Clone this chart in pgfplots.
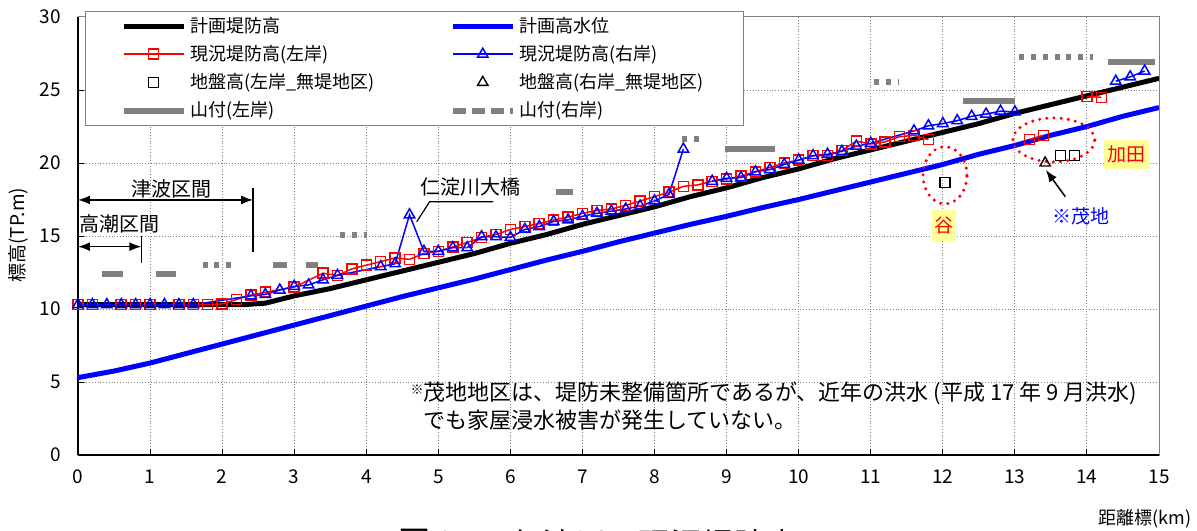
\documentclass[border=0pt]{standalone}
\usepackage{fontspec}
\setmainfont{Noto Sans CJK JP}
\usepackage{pgfplots}
\pgfplotsset{compat=1.18}
\usetikzlibrary{arrows.meta}
\definecolor{mygray}{RGB}{128,128,128}
\definecolor{yel}{RGB}{255,255,153}
\newcommand{\fs}[1]{\fontsize{#1}{#1}\selectfont}
\pgfplotsset{
  linelegend/.style={legend image code/.code={\draw[mark repeat=2,mark phase=2,##1] plot coordinates {(0pt,0pt) (15pt,0pt) (30pt,0pt)};}},
  dashlegend/.style={legend image code/.code={\draw[##1, dash pattern=on 6.5pt off 3pt] (0pt,0pt) -- (30pt,0pt);}},
}
\begin{document}
\begin{tikzpicture}
\begin{axis}[
  scale only axis, width=540.5pt, height=219pt,
  xmin=0, xmax=15, ymin=0, ymax=30,
  xtick={0,1,...,15}, ytick={0,5,...,30},
  grid=major, grid style={densely dotted, gray, line width=0.5pt},
  axis x line*=bottom, axis y line*=left,
  axis line style={black, line width=1pt, -},
  tick style={black, line width=0.5pt},
  major tick length=3pt, tick align=inside,
  ticklabel style={font=\fs{9.5}},
  xticklabel style={yshift=-4pt},
  yticklabel style={xshift=-5pt},
  /pgf/number format/assume math mode=true,
  clip=false,
  unbounded coords=jump,
  legend columns=2,
  legend cell align=left,
  legend style={at={(axis description cs:0.0065,1.0137)}, anchor=north west,
    draw=gray, line width=0.5pt, fill=white, font=\fs{9},
    inner xsep=17.5pt, inner ysep=1.75pt, row sep=3pt,
    nodes={inner ysep=1pt},
    /tikz/every even column/.append style={column sep=35.5pt}},
  linelegend,
]
% 計画堤防高
\addplot[black, line width=2.5pt] coordinates {
(0,10.3)(2.3,10.3)(2.6,10.4)(3.0,10.9)(3.5,11.4)(4,12.0)(4.5,12.6)(5,13.2)(5.5,13.8)(6,14.5)(6.5,15.1)(7,15.8)(7.5,16.4)(8,17.0)(8.5,17.7)(9,18.3)(9.5,19.0)(10,19.6)(10.5,20.3)(11,20.9)(11.5,21.5)(12,22.1)(12.5,22.7)(13,23.4)(13.5,24.0)(14,24.6)(14.5,25.2)(15,25.8)};
\addlegendentry{計画堤防高}
% 計画高水位
\addplot[blue, line width=2.5pt] coordinates {
(0,5.3)(0.5,5.75)(1,6.3)(1.5,6.95)(2,7.6)(2.5,8.25)(3,8.9)(3.5,9.55)(4,10.2)(4.5,10.85)(5,11.45)(5.5,12.05)(6,12.7)(6.5,13.35)(7,13.95)(7.5,14.6)(8,15.2)(8.5,15.8)(9,16.35)(9.5,16.95)(10,17.5)(10.5,18.1)(11,18.7)(11.5,19.3)(12,19.9)(12.5,20.6)(13,21.2)(13.5,21.9)(14,22.5)(14.5,23.2)(15,23.8)};
\addlegendentry{計画高水位}
% 現況堤防高(左岸)
\addplot[red, line width=0.75pt, mark=square, mark size=2.5pt, mark options={solid}] coordinates {
(0,10.3)(0.2,10.3)(0.6,10.3)(0.8,10.3)(1.0,10.3)(1.4,10.3)(1.6,10.3)(1.8,10.3)(2.0,10.35)(2.2,10.65)(2.4,10.95)(2.6,11.15)(3.0,11.5)(3.4,12.45)(3.6,12.3)(3.8,12.75)(4.0,13.0)(4.2,13.25)(4.4,13.5)(4.6,13.4)(4.8,13.8)(5.0,13.95)(5.2,14.25)(5.4,14.55)(5.6,14.9)(5.8,15.1)(6.0,15.45)(6.2,15.65)(6.4,15.85)(6.6,16.1)(6.8,16.3)(7.0,16.55)(7.2,16.75)(7.4,16.85)(7.6,17.1)(7.8,17.4)(8.0,17.7)(8.2,18.0)(8.4,18.4)(8.6,18.5)(8.8,18.75)(9.0,18.9)(9.2,19.1)(9.4,19.4)(9.6,19.7)(9.8,20.0)(10.0,20.2)(10.2,20.5)(10.4,20.5)(10.6,20.85)(10.8,21.5)(11.0,21.3)(11.2,21.45)(11.4,21.8)(11.6,21.9)(11.8,21.6)(12.5,nan)(13.2,21.6)(13.4,21.9)(13.7,nan)(14.0,24.55)(14.2,24.5)};
\addlegendentry{現況堤防高(左岸)}
% 現況堤防高(右岸)
\addplot[blue, line width=0.75pt, mark=triangle, mark size=3pt, mark options={solid}] coordinates {
(0,10.3)(0.2,10.3)(0.4,10.3)(0.6,10.3)(0.8,10.3)(1.0,10.3)(1.2,10.3)(1.4,10.3)(1.6,10.3)(2.4,10.9)(2.6,11.0)(2.8,11.3)(3.0,11.55)(3.2,11.65)(3.4,12.0)(3.6,12.3)(4.2,12.9)(4.4,13.1)(4.6,16.45)(4.8,13.95)(5.0,13.95)(5.2,14.2)(5.4,14.2)(5.6,14.95)(5.8,14.95)(6.0,14.9)(6.2,15.45)(6.4,15.65)(6.6,16.0)(6.8,16.1)(7.0,16.35)(7.2,16.55)(7.4,16.7)(7.6,16.85)(7.8,17.05)(8.0,17.4)(8.2,17.85)(8.4,20.95)(8.6,nan)(8.8,18.75)(9.0,18.95)(9.2,19.0)(9.4,19.4)(9.6,19.55)(9.8,19.9)(10.0,20.2)(10.2,20.5)(10.4,20.6)(10.6,20.8)(10.8,21.15)(11.0,21.35)(11.6,22.2)(11.8,22.55)(12.0,22.7)(12.2,22.9)(12.4,23.2)(12.6,23.35)(12.8,23.55)(13.0,23.5)(13.7,nan)(14.4,25.6)(14.6,25.9)(14.8,26.3)};
\addlegendentry{現況堤防高(右岸)}
% 地盤高(左岸)
\addplot[black, only marks, mark=square, mark size=2.5pt, line width=0.7pt] coordinates {(12.03,18.65)(13.63,20.53)(13.83,20.53)};
\addlegendentry{地盤高(左岸\_無堤地区)}
% 地盤高(右岸)
\addplot[black, only marks, mark=triangle, mark size=3pt, line width=0.7pt] coordinates {(13.42,20.0)};
\addlegendentry{地盤高(右岸\_無堤地区)}
% 山付(左岸)
\addplot[mygray, line width=3pt] coordinates {
(0.33,12.38)(0.63,12.38)(0.8,nan)(1.08,12.38)(1.36,12.38)(2,nan)(2.71,13.01)(2.90,13.01)(3.0,nan)(3.16,13.01)(3.33,13.01)(4,nan)(6.63,17.99)(6.87,17.99)(8,nan)(8.98,20.94)(9.67,20.94)(11,nan)(12.28,24.25)(13.0,24.25)(13.5,nan)(14.29,26.92)(14.94,26.92)};
\addlegendentry{山付(左岸)}
% 山付(右岸)
\addplot[mygray, line width=3pt, dash pattern=on 2.5pt off 3.4pt, dashlegend] coordinates {
(1.73,13.01)(2.22,13.01)(3,nan)(3.64,15.07)(4.01,15.07)(5,nan)(8.38,21.62)(8.61,21.62)(10,nan)(11.05,25.57)(11.38,25.57)(12,nan)(13.06,27.24)(14.08,27.24)};
\addlegendentry{山付(右岸)}

% box top/right
\draw[gray, line width=0.5pt] (rel axis cs:0,1) -- (rel axis cs:1,1) -- (rel axis cs:1,0);

% annotations
\node[font=\fs{10}, inner sep=0] at (axis cs:1.30,18.22) {津波区間};
\draw[line width=0.75pt, {Latex[length=6pt,width=4.5pt]}-{Latex[length=6pt,width=4.5pt]}] (axis cs:0,17.47) -- (axis cs:2.43,17.47);
\draw[line width=0.75pt] (axis cs:2.43,18.29) -- (axis cs:2.43,13.92);
\node[font=\fs{10}, inner sep=0] at (axis cs:0.58,15.82) {高潮区間};
\draw[line width=0.75pt, {Latex[length=6pt,width=4.5pt]}-{Latex[length=6pt,width=4.5pt]}] (axis cs:0,14.27) -- (axis cs:0.88,14.27);
\draw[line width=0.75pt] (axis cs:0.88,15.0) -- (axis cs:0.88,13.17);
\node[font=\fs{10}, inner sep=0] at (axis cs:5.44,18.36) {仁淀川大橋};
\draw[line width=0.6pt] (axis cs:5.76,17.35) -- (axis cs:4.88,17.35) -- (axis cs:4.70,15.98);

\draw[red, line width=1.7pt, dash pattern=on 0pt off 3.6pt, line cap=round] (axis cs:12.03,19.16) ellipse [x radius=11pt, y radius=14.3pt];
\draw[red, line width=1.7pt, dash pattern=on 0pt off 3.6pt, line cap=round] (axis cs:13.54,21.58) ellipse [x radius=20.5pt, y radius=11pt];
\node[fill=yel, text=red, font=\fs{9.5}, minimum width=12pt, minimum height=15.5pt, inner sep=0.5pt] at (axis cs:12.02,15.75) {谷};
\node[fill=yel, text=red, font=\fs{9.5}, minimum width=22.5pt, minimum height=14.5pt, inner sep=0.5pt] at (axis cs:14.55,20.58) {加田};
\node[text=blue, font=\fs{9.5}, inner sep=0] at (axis cs:13.92,16.37) {※茂地};
\draw[line width=0.75pt, -{Latex[length=6pt,width=4.5pt]}] (axis cs:13.70,17.69) -- (axis cs:13.43,19.52);

\node[anchor=west, font=\fs{11}, inner sep=0] at (axis cs:4.79,4.2) {\llap{\raisebox{0.3em}{\fs{6.5}※}}茂地地区は、堤防未整備箇所であるが、近年の洪水 (平成 17 年 9 月洪水)};
\node[anchor=west, font=\fs{11}, inner sep=0] at (axis cs:4.79,2.42) {でも家屋浸水被害が発生していない。};

% axis labels
\node[rotate=90, font=\fs{9.5}, inner sep=0] at (axis description cs:-0.0555,0.502) {標高(TP.m)};
\node[anchor=east, font=\fs{9}, inner sep=0] at (axis cs:15.457,-4.38) {距離標(km)};
% caption (cut by the lower edge, as in the reference)
\node[anchor=north west, font=\fs{16}, inner sep=0] at (axis cs:4.44,-5.07) {図 2-1};
\node[anchor=north west, font=\fs{16}, inner sep=0] at (axis cs:6.0,-5.07) {仁淀川の現況堤防高};

\coordinate (bbsw) at (axis cs:-1.0823,-5.137);
\coordinate (bbne) at (axis cs:15.527,31.164);
\end{axis}
\pgfresetboundingbox
\useasboundingbox (bbsw) rectangle (bbne);
\end{tikzpicture}
\end{document}
